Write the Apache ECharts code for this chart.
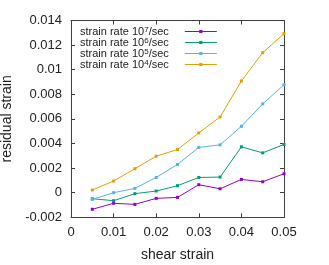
<!DOCTYPE html>
<html><head><meta charset="utf-8">
<script src="https://cdn.jsdelivr.net/npm/echarts@6/dist/echarts.min.js"></script>
<style>html,body{margin:0;padding:0;background:#fff}#c{width:329px;height:265px}</style>
</head><body><div id="c"></div>
<script>
var shearStrain = [0.005, 0.01, 0.015, 0.02, 0.025, 0.03, 0.035, 0.04, 0.045, 0.05];
var rate1e7 = [-0.00135, -0.00086, -0.00095, -0.00046, -0.00038, 0.00065, 0.00032, 0.00108, 0.00089, 0.00154];
var rate1e6 = [-0.00049, -0.00065, -0.00008, 0.000135, 0.00057, 0.00124, 0.00127, 0.00373, 0.00324, 0.00392];
var rate1e5 = [-0.00054, 0.0, 0.00035, 0.00124, 0.0023, 0.00368, 0.00389, 0.0054, 0.00722, 0.00878];
var rate1e4 = [0.00022, 0.00095, 0.00195, 0.00297, 0.00351, 0.00486, 0.00616, 0.00908, 0.01138, 0.01293];
var seriesNames = ['strain rate 10^7/sec', 'strain rate 10^6/sec', 'strain rate 10^5/sec', 'strain rate 10^4/sec'];
var seriesExp = ['7', '6', '5', '4'];
var colors = ['#9400d3', '#009e73', '#56b4e9', '#e69f00'];
var seriesData = [rate1e7, rate1e6, rate1e5, rate1e4];

var font = 'Liberation Sans, Arial, sans-serif';
var axisColor = '#404040';
function fmt(v){ return String(parseFloat(v.toFixed(4))); }

var chart = echarts.init(document.getElementById('c'), null, {renderer: 'canvas'});
var series = seriesNames.map(function(n, i){
  return {
    name: n, type: 'line',
    data: shearStrain.map(function(x, j){ return [x, seriesData[i][j]]; }),
    symbol: 'rect', symbolSize: 3,
    lineStyle: {width: 1, color: colors[i]},
    itemStyle: {color: colors[i]},
    xAxisIndex: 0, yAxisIndex: 0, animation: false
  };
});
var axisCommon = {
  axisLine: {show: true, onZero: false, lineStyle: {color: axisColor, width: 1}},
  axisTick: {show: true, inside: true, length: 4, lineStyle: {color: axisColor}},
  splitLine: {show: false}
};
chart.setOption({
  animation: false,
  grid: {left: 71, right: 45, top: 20.5, bottom: 47.7, containLabel: false, outerBoundsMode: 'none'},
  legend: {
    left: 75, top: 21, orient: 'vertical', align: 'right',
    itemWidth: 32, itemHeight: 4, itemGap: 0,
    lineStyle: {width: 1},
    data: seriesNames,
    formatter: function(name){
      var i = seriesNames.indexOf(name);
      return '{t|strain rate 10}{s|' + seriesExp[i] + '}{e|/sec}';
    },
    textStyle: {
      fontFamily: font, fontSize: 11, color: '#222', lineHeight: 11,
      rich: {
        t: {fontFamily: font, fontSize: 11, color: '#222', lineHeight: 11},
        e: {fontFamily: font, fontSize: 11, color: '#222', lineHeight: 11, padding: [0, 11, 0, 0]},
        s: {fontFamily: font, fontSize: 8, color: '#222', verticalAlign: 'top', lineHeight: 7}
      }
    }
  },
  xAxis: [
    Object.assign({type: 'value', min: 0, max: 0.05, interval: 0.01, position: 'bottom',
      name: 'shear strain', nameLocation: 'middle', nameGap: 31,
      nameTextStyle: {fontFamily: font, fontSize: 14, color: '#222'},
      axisLabel: {fontFamily: font, fontSize: 13, color: '#222', margin: 9, formatter: fmt}}, axisCommon),
    Object.assign({type: 'value', min: 0, max: 0.05, interval: 0.01, position: 'top', gridIndex: 0,
      axisLabel: {show: false}}, axisCommon)
  ],
  yAxis: [
    Object.assign({type: 'value', min: -0.002, max: 0.014, interval: 0.002, position: 'left',
      name: 'residual strain', nameLocation: 'middle', nameGap: 47,
      nameTextStyle: {fontFamily: font, fontSize: 14, color: '#222'},
      axisLabel: {fontFamily: font, fontSize: 13, color: '#222', margin: 9, formatter: fmt}}, axisCommon),
    Object.assign({type: 'value', min: -0.002, max: 0.014, interval: 0.002, position: 'right', gridIndex: 0,
      axisLabel: {show: false}}, axisCommon)
  ],
  series: series
});
</script></body></html>
